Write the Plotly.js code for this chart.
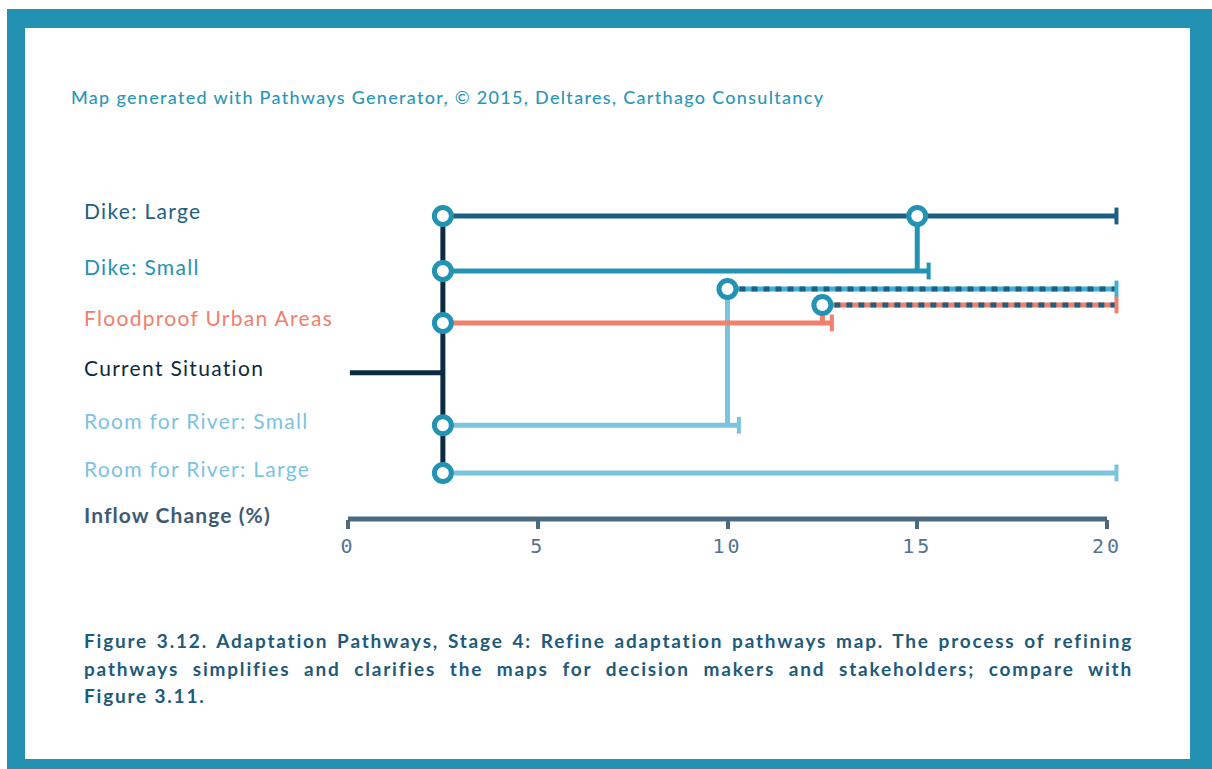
<!DOCTYPE html>
<html>
<head>
<meta charset="utf-8">
<script src="https://cdn.plot.ly/plotly-3.0.1.min.js"></script>
<style>
  html, body { margin: 0; padding: 0; width: 1212px; height: 769px; background: #ffffff; overflow: hidden; }
  #frame { position: absolute; left: 7px; top: 9px; width: 1205px; height: 760px; background: #2391b2; }
  #panel { position: absolute; left: 25px; top: 28px; width: 1165px; height: 731px; background: #ffffff; }
  #chart { position: absolute; left: 0; top: 0; width: 1212px; height: 769px; }
  #caption { position: absolute; left: 84px; top: 627px; width: 1049px; font-family: Lato, "Open Sans", sans-serif;
             font-weight: 700; font-size: 19px; color: #1e5a7a; letter-spacing: 1.8px; line-height: 27.5px; }
  #caption .j { text-align: justify; text-align-last: justify; white-space: nowrap; }
</style>
</head>
<body>
<div id="frame"></div>
<div id="panel"></div>
<div id="chart"></div>
<div id="caption">
  <div class="j">Figure 3.12. Adaptation Pathways, Stage 4: Refine adaptation pathways map. The process of refining</div>
  <div class="j">pathways simplifies and clarifies the maps for decision makers and stakeholders; compare with</div>
  <div>Figure 3.11.</div>
</div>
<script>
// ---------- data ----------
const options = ['Dike: Large', 'Dike: Small', 'Floodproof Urban Areas', 'Current Situation', 'Room for River: Small', 'Room for River: Large'];
const optionRow = [6, 4.93, 3.92, 2.95, 1.93, 1];
const optionStart = [2.5, 2.5, 2.5, 0.05, 2.5, 2.5];
const optionEnd = [20.25, 15.3, 12.75, 2.5, 10.3, 20.25];

const comboNames = ['Room for River: Small + Dike: Large', 'Floodproof Urban Areas + Dike: Large'];
const comboRow = [4.58, 4.27];
const comboStart = [10, 12.5];
const comboEnd = [20.25, 20.25];

const transferFrom = ['Dike: Small', 'Room for River: Small', 'Floodproof Urban Areas'];
const transferX = [15, 10, 12.5];
const transferToRow = [6, 4.58, 4.27];

const xTicks = [0, 5, 10, 15, 20];
const xTickLabels = ['0', '5', '10', '15', '20'];
const xAxisLabel = 'Inflow Change (%)';
const mapCredit = 'Map generated with Pathways Generator, © 2015, Deltares, Carthago Consultancy';

// ---------- styles ----------
const navy = '#0c2b40';
const dark = '#1d5f82';
const teal = '#2393b3';
const salmon = '#f0806b';
const light = '#7cc3df';
const bright = '#45aed3';
const axisCol = '#4a6a82';
const optionColors = [dark, teal, salmon, navy, light, light];
const comboBase = [bright, salmon];
const transferColors = [teal, light, salmon];
const LW = 5;
const spaced = (t, px) => '<span style="letter-spacing:' + px + 'px">' + t + '</span>';

const traces = [];
const rowOf = name => optionRow[options.indexOf(name)];

// current-situation trunk
const trunkRows = optionRow.filter((r, i) => optionStart[i] === 2.5);
traces.push({x: [2.5, 2.5], y: [Math.min(...trunkRows), Math.max(...trunkRows)], mode: 'lines',
  line: {color: navy, width: LW}, hoverinfo: 'skip', showlegend: false});

// transfers (vertical links)
transferFrom.forEach((f, i) => {
  traces.push({x: [transferX[i], transferX[i]], y: [rowOf(f), transferToRow[i]], mode: 'lines',
    line: {color: transferColors[i], width: LW}, hoverinfo: 'skip', showlegend: false});
});

// option lines
options.forEach((o, i) => {
  traces.push({x: [optionStart[i], optionEnd[i]], y: [optionRow[i], optionRow[i]], mode: 'lines',
    line: {color: optionColors[i], width: LW}, name: o, showlegend: false});
  if (o !== 'Current Situation') {
    traces.push({x: [optionEnd[i]], y: [optionRow[i]], mode: 'markers',
      marker: {symbol: 'line-ns', size: 12, line: {color: optionColors[i], width: 4}},
      hoverinfo: 'skip', showlegend: false, cliponaxis: false});
  }
});

// combination (dotted) lines
comboNames.forEach((c, i) => {
  traces.push({x: [comboStart[i], comboEnd[i]], y: [comboRow[i], comboRow[i]], mode: 'lines',
    line: {color: comboBase[i], width: LW}, name: c, showlegend: false});
  traces.push({x: [comboStart[i], comboEnd[i]], y: [comboRow[i], comboRow[i]], mode: 'lines',
    line: {color: dark, width: LW, dash: '6px,6px'}, hoverinfo: 'skip', showlegend: false});
  traces.push({x: [comboEnd[i]], y: [comboRow[i]], mode: 'markers',
    marker: {symbol: 'line-ns', size: 12, line: {color: comboBase[i], width: 4}},
    hoverinfo: 'skip', showlegend: false, cliponaxis: false});
});

// tipping / transfer circles
const cx = [], cy = [];
options.forEach((o, i) => { if (optionStart[i] === 2.5) { cx.push(2.5); cy.push(optionRow[i]); } });
transferX.forEach((x, i) => { cx.push(x); cy.push(transferToRow[i]); });
traces.push({x: cx, y: cy, mode: 'markers',
  marker: {symbol: 'circle', size: 17, color: '#ffffff', line: {color: teal, width: 5}},
  hoverinfo: 'skip', showlegend: false, cliponaxis: false});

// ---------- labels ----------
const annotations = options.map((o, i) => ({
  text: spaced(o, 1.3), x: 82 / 1212, xref: 'paper', xanchor: 'left', y: optionRow[i], yref: 'y', yanchor: 'middle',
  yshift: 5, showarrow: false, font: {family: 'Lato, sans-serif', size: 21, color: optionColors[i]}
}));
annotations.push({text: '<b>' + spaced(xAxisLabel, 1.1) + '</b>', x: 82 / 1212, xref: 'paper', xanchor: 'left',
  y: (769 - 514) / 769, yref: 'paper', yanchor: 'middle', showarrow: false,
  font: {family: 'Lato, sans-serif', size: 21, color: '#3e5b72'}});
annotations.push({text: spaced(mapCredit, 1.3),
  x: 69 / 1212, xref: 'paper', xanchor: 'left', y: (769 - 97) / 769, yref: 'paper', yanchor: 'middle',
  showarrow: false, font: {family: 'Lato, sans-serif', size: 18, color: '#2b97b6', weight: 500}});

const layout = {
  width: 1212, height: 769, autosize: false,
  margin: {l: 0, r: 0, t: 0, b: 0, pad: 0},
  paper_bgcolor: 'rgba(0,0,0,0)', plot_bgcolor: 'rgba(0,0,0,0)',
  showlegend: false,
  xaxis: {range: [-0.5, 21], domain: [329.025 / 1212, 1144.95 / 1212], showgrid: false, zeroline: false,
    showline: false, tickvals: xTicks, ticktext: xTickLabels.map(t => spaced(t, 3)), ticks: 'outside', ticklen: 9, tickwidth: 4,
    tickcolor: axisCol, ticklabelstandoff: 0,
    tickfont: {family: '"DejaVu Sans Mono", monospace', size: 20, color: '#557490'}, fixedrange: true},
  yaxis: {range: [0.105, 6.5], domain: [(769 - 519) / 769, (769 - 190.3) / 769], showgrid: false,
    zeroline: false, showline: false, showticklabels: false, ticks: '', fixedrange: true},
  shapes: [{type: 'line', xref: 'x', yref: 'paper', x0: 0, x1: 20, y0: (769 - 519) / 769, y1: (769 - 519) / 769,
    line: {color: axisCol, width: 5}}],
  annotations: annotations
};

Plotly.newPlot('chart', traces, layout, {staticPlot: true, displayModeBar: false});
</script>
</body>
</html>
